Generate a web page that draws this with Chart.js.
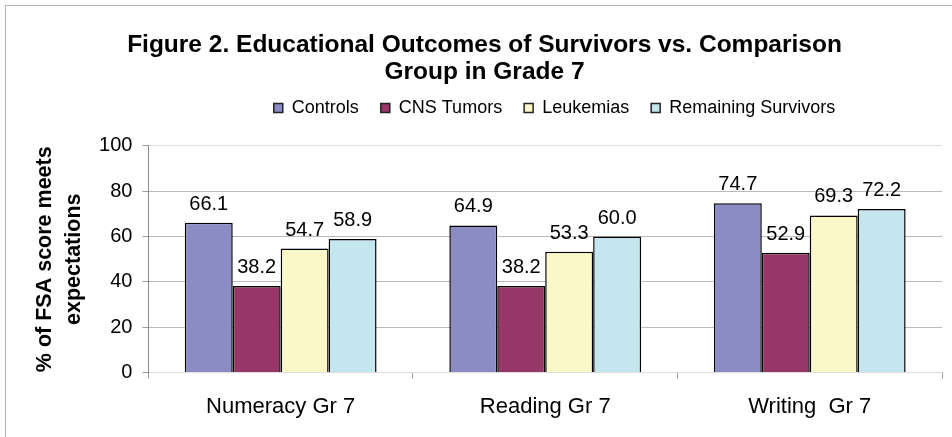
<!DOCTYPE html>
<html>
<head>
<meta charset="utf-8">
<script src="https://cdn.jsdelivr.net/npm/chart.js@4.4.1/dist/chart.umd.min.js"></script>
<style>
  html, body { margin: 0; padding: 0; background: #fff; }
  #wrap { position: relative; width: 952px; height: 437px; overflow: hidden; }
  #frame { position: absolute; left: 5px; top: 5px; width: 1000px; height: 500px; border: 1px solid #b4b4b4; }
  #myChart { position: absolute; left: 0; top: 0; }
</style>
</head>
<body>
<div id="wrap">
  <div id="frame"></div>
  <canvas id="myChart" width="952" height="437"></canvas>
</div>
<script>
const categories = ["Numeracy Gr 7", "Reading Gr 7", "Writing  Gr 7"];
const seriesNames = ["Controls", "CNS Tumors", "Leukemias", "Remaining Survivors"];
const controls = [66.1, 64.9, 74.7];
const cnsTumors = [38.2, 38.2, 52.9];
const leukemias = [54.7, 53.3, 69.3];
const remaining = [58.9, 60.0, 72.2];
const yTicks = [0, 20, 40, 60, 80, 100];

const colors = ["#8a8cc3", "#963768", "#faf7c8", "#c4e6ee"];
const seriesValues = [controls, cnsTumors, leukemias, remaining];
const font = "'Liberation Sans', Arial, sans-serif";

const ctx = document.getElementById("myChart");

// extra space under the legend, before the plot
const LegendEl = Chart.registry.getPlugin("legend")._element;
const origFit = LegendEl.prototype.fit;
LegendEl.prototype.fit = function () {
  origFit.call(this);
  this.height += 8;
};

// value labels above every bar
const valueLabels = {
  id: "valueLabels",
  afterDatasetsDraw(chart) {
    const c = chart.ctx;
    c.save();
    c.font = "20px " + font;
    c.fillStyle = "#000";
    c.textAlign = "center";
    c.textBaseline = "alphabetic";
    chart.data.datasets.forEach((ds, i) => {
      chart.getDatasetMeta(i).data.forEach((bar, j) => {
        c.fillText(ds.data[j].toFixed(1), bar.x, bar.y - 13);
      });
    });
    c.restore();
  }
};

// legend in the reference sits right of centre and close under the title
const shiftLegend = {
  id: "shiftLegend",
  afterLayout(chart) {
    const lg = chart.legend;
    lg.left += 70;
    lg.right += 70;
    lg.top -= 11;
    lg.bottom -= 11;
  }
};

new Chart(ctx, {
  type: "bar",
  data: {
    labels: categories,
    datasets: seriesNames.map((name, i) => ({
      label: name,
      data: seriesValues[i],
      backgroundColor: colors[i],
      borderColor: "#000",
      borderWidth: 1.5,
      categoryPercentage: 0.725,
      barPercentage: 1
    }))
  },
  options: {
    responsive: false,
    animation: false,
    layout: { padding: { left: 27, right: 10, top: 0, bottom: 2 } },
    plugins: {
      title: {
        display: true,
        text: ["Figure 2. Educational Outcomes of Survivors vs. Comparison", "Group in Grade 7"],
        color: "#000",
        font: { family: font, size: 24.5, weight: "bold", lineHeight: 1.1 },
        padding: { top: 32, bottom: 2 }
      },
      legend: {
        position: "top",
        labels: {
          color: "#000",
          font: { family: font, size: 18 },
          boxWidth: 9,
          boxHeight: 9,
          padding: 22,
          generateLabels(chart) {
            return chart.data.datasets.map((ds, i) => ({
              text: ds.label,
              fillStyle: ds.backgroundColor,
              strokeStyle: "#222",
              lineWidth: 1.5,
              datasetIndex: i
            }));
          }
        }
      },
      tooltip: { enabled: false }
    },
    scales: {
      x: {
        grid: {
          display: true,
          drawOnChartArea: false,
          drawTicks: true,
          tickLength: 6,
          color: "#999"
        },
        border: { color: "#ddd" },
        ticks: {
          color: "#000",
          font: { family: font, size: 22 },
          padding: 15
        }
      },
      y: {
        min: 0,
        max: 100,
        afterBuildTicks(axis) {
          axis.ticks = yTicks.map(v => ({ value: v }));
        },
        grid: {
          color: (c) => c.tick && c.tick.value === 100 ? "#ddd" : "#bbb",
          tickLength: 6,
          tickColor: "#999"
        },
        border: { color: "#888", width: 1 },
        ticks: {
          color: "#000",
          font: { family: font, size: 20 },
          padding: 10
        },
        title: {
          display: true,
          text: ["% of FSA score meets", "expectations"],
          color: "#000",
          font: { family: font, size: 21.5, weight: "bold", lineHeight: 1.35 },
          padding: { top: 4, bottom: 0 }
        }
      }
    }
  },
  plugins: [valueLabels, shiftLegend]
});
</script>
</body>
</html>
